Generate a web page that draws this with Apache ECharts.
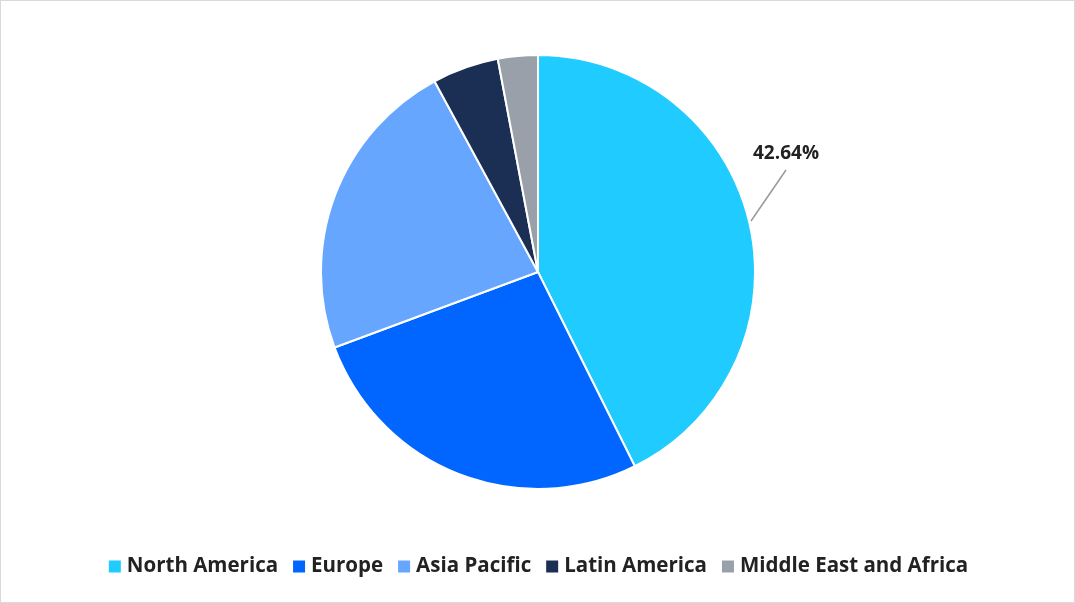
<!DOCTYPE html>
<html><head><meta charset="utf-8">
<script src="https://cdn.jsdelivr.net/npm/echarts@6/dist/echarts.min.js"></script>
<style>html,body{margin:0;padding:0;background:#fff}#c{width:1073px;height:601px;border:1px solid #d9d9d9}</style>
</head><body><div id="c"></div>
<script>
var categories=['North America','Europe','Asia Pacific','Latin America','Middle East and Africa'];
var values=[42.64,26.7,22.75,4.94,2.97];
var colors=['#1fcbff','#0066ff','#66a6ff','#1b2f55','#9aa0aa'];
var chart=echarts.init(document.getElementById('c'));
chart.setOption({
  color:colors,
  legend:{bottom:20,left:'center',itemWidth:14,itemHeight:14,itemGap:13,icon:'rect',
    textStyle:{fontFamily:'Open Sans',fontWeight:'bold',fontSize:20.5,color:'#222'}},
  graphic:[{type:'line',shape:{x1:750,y1:220,x2:785,y2:169},style:{stroke:'#999',lineWidth:1.5}}],
  series:[{type:'pie',center:[537,271],radius:217,startAngle:90,clockwise:true,
    itemStyle:{borderColor:'#fff',borderWidth:2},
    labelLayout:{x:785,y:153,align:'center',verticalAlign:'middle',moveOverlap:false},
    data:categories.map(function(n,i){
      return {name:n,value:values[i],
        label:{show:i===0,formatter:'{d}%',fontFamily:'Open Sans',fontWeight:'bold',fontSize:19,color:'#222'},
        labelLine:{show:false}};
    }),
    label:{position:'outside'},
    percentPrecision:2
  }]
});
</script></body></html>
